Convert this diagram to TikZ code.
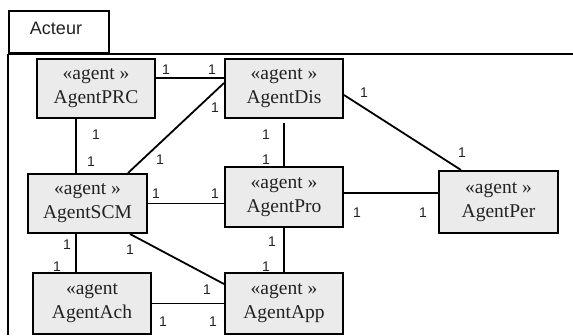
\documentclass[tikz,border=0pt]{standalone}
\usepackage{fontspec}
\setmainfont{Liberation Serif}
\newfontfamily\lsans{Liberation Sans}
\definecolor{boxgray}{HTML}{EBEBEB}
\definecolor{txtgray}{HTML}{222222}
\begin{document}
\begin{tikzpicture}[x=1pt,y=-1pt,
  agentbox/.style={draw, fill=boxgray, line width=2pt, minimum width=118pt, minimum height=59pt,
     inner sep=0pt, align=center, text=txtgray, font=\fontsize{19.5}{24}\selectfont},
  conn/.style={line width=1.8pt},
  mult/.style={inner sep=0pt, text=txtgray, font=\lsans\fontsize{14}{14}\selectfont}]
\useasboundingbox (0,0) rectangle (573,335);
% frame
\node[draw, line width=2pt, minimum width=100pt, minimum height=42pt, inner sep=0pt, anchor=north west] (tab) at (8,10) {};
\node[inner sep=0pt, text=txtgray, font=\lsans\fontsize{18}{18}\selectfont] (acteur) at (56,28) {Acteur};
\draw[line width=2pt] (tab.south west) -- (tab.south -| 573,0);
\draw[line width=2pt] (tab.south west) -- (tab.south west |- 0,335);
% boxes
\node[agentbox] (PRC) at (96,88.5) {«agent »\\AgentPRC};
\node[agentbox] (Dis) at (284,88.5) {«agent »\\AgentDis};
\node[agentbox, minimum width=119pt] (SCM) at (87.5,203.5) {«agent »\\AgentSCM};
\node[agentbox, minimum height=60pt] (Pro) at (284,197) {«agent »\\AgentPro};
\node[agentbox, minimum width=119pt, minimum height=62pt] (Per) at (498.5,202) {«agent »\\AgentPer};
\node[agentbox, minimum height=61pt] (Ach) at (92,303.5) {«agent\\AgentAch};
\node[agentbox, minimum height=61pt] (App) at (284,303.5) {«agent »\\AgentApp};
% connectors
\draw[conn] (PRC.east |- 0,78) -- (Dis.west |- 0,78);
\draw[conn] (PRC.south -| 76,0) -- (SCM.north -| 76,0);
\draw[conn] (Dis.west |- 0,83) -- (SCM.north -| 128,0);
\draw[conn, shorten <=4pt] (Dis.south) -- (Pro.north);
\draw[conn] (Dis.east |- 0,95) -- (Per.north -| 461,0);
\draw[conn] (SCM.east) -- (Pro.west |- SCM.east);
\draw[conn] (SCM.south -| 76,0) -- (Ach.north -| 76,0);
\draw[conn] (SCM.south -| 130,0) -- (App.west |- 0,284);
\draw[conn] (Pro.south) -- (App.north);
\draw[conn] (Pro.east |- 0,193) -- (Per.west |- 0,193);
\draw[conn] (Ach.east) -- (App.west |- Ach.east);
% multiplicities
\node[mult] (m1) at (166,70) {1};
\node[mult] (m2) at (212,70) {1};
\node[mult] (m3) at (215,108) {1};
\node[mult] (m4) at (160,160) {1};
\node[mult] (m5) at (96,135) {1};
\node[mult] (m6) at (91,162) {1};
\node[mult] (m7) at (266,135) {1};
\node[mult] (m8) at (266,160) {1};
\node[mult] (m9) at (364,93) {1};
\node[mult] (m10) at (462,153) {1};
\node[mult] (m11) at (156,194) {1};
\node[mult] (m12) at (215,194) {1};
\node[mult] (m13) at (67,245) {1};
\node[mult] (m14) at (57,267) {1};
\node[mult] (m15) at (130,250) {1};
\node[mult] (m16) at (207,290) {1};
\node[mult] (m17) at (272,242) {1};
\node[mult] (m18) at (266,267) {1};
\node[mult] (m19) at (163,322) {1};
\node[mult] (m20) at (213,322) {1};
\node[mult] (m21) at (357,213) {1};
\node[mult] (m22) at (423,213) {1};
\end{tikzpicture}
\end{document}
